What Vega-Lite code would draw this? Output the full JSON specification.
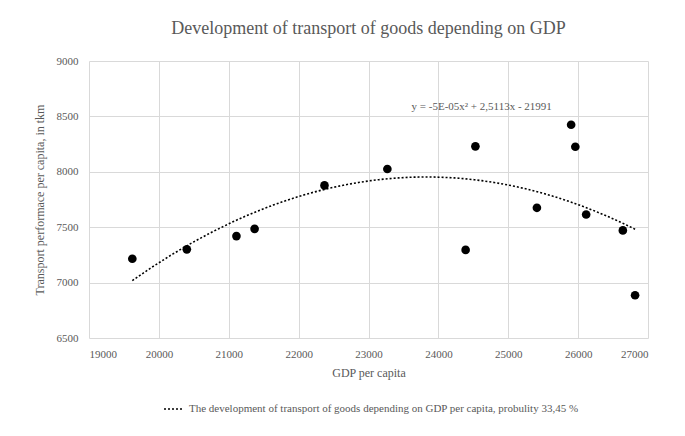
{
  "$schema": "https://vega.github.io/schema/vega-lite/v6.json",
  "width": 559,
  "height": 277,
  "autosize": "none",
  "padding": {"left": 89, "top": 61, "right": 37, "bottom": 98},
  "background": "white",
  "config": {
    "font": "'Liberation Serif', 'DejaVu Serif', serif",
    "view": {"stroke": null},
    "axis": {
      "grid": true,
      "gridColor": "#d9d9d9",
      "gridWidth": 1,
      "domain": false,
      "ticks": false,
      "labelFont": "'Liberation Serif', 'DejaVu Serif', serif",
      "labelFontSize": 11,
      "labelColor": "#595959",
      "titleFont": "'Liberation Serif', 'DejaVu Serif', serif",
      "titleFontSize": 12,
      "titleFontWeight": "normal",
      "titleColor": "#595959"
    }
  },
  "title": {
    "text": "Development of transport of goods depending on GDP",
    "font": "'Liberation Serif', 'DejaVu Serif', serif",
    "fontSize": 18,
    "fontWeight": "normal",
    "color": "#595959",
    "anchor": "middle",
    "offset": 17
  },
  "datasets": {
    "points": [
      {"GDP": 19620, "Transport": 7215},
      {"GDP": 20400, "Transport": 7300},
      {"GDP": 21110, "Transport": 7420},
      {"GDP": 21370, "Transport": 7485},
      {"GDP": 22370, "Transport": 7877},
      {"GDP": 23270, "Transport": 8025},
      {"GDP": 24390, "Transport": 7295},
      {"GDP": 24530, "Transport": 8230},
      {"GDP": 25410, "Transport": 7675},
      {"GDP": 25900, "Transport": 8425},
      {"GDP": 25960, "Transport": 8226},
      {"GDP": 26115, "Transport": 7615},
      {"GDP": 26640, "Transport": 7471},
      {"GDP": 26815, "Transport": 6886}
    ],
    "equation": [
      {"GDP": 24620, "Transport": 8585, "label": "y = -5E-05x² + 2,5113x - 21991"}
    ]
  },
  "layer": [
    {
      "data": {"name": "points"},
      "transform": [
        {"regression": "Transport", "on": "GDP", "method": "poly", "order": 2, "extent": [19620, 26815]}
      ],
      "mark": {"type": "line", "strokeDash": [2, 2], "strokeWidth": 1.6},
      "encoding": {
        "x": {
          "field": "GDP", "type": "quantitative", "title": "GDP per capita",
          "scale": {"domain": [19000, 27000], "nice": false, "zero": false},
          "axis": {"values": [19000, 20000, 21000, 22000, 23000, 24000, 25000, 26000, 27000], "labelPadding": 10, "titlePadding": 8, "format": "d"}
        },
        "y": {
          "field": "Transport", "type": "quantitative", "title": "Transport performace per capita, in tkm",
          "scale": {"domain": [6500, 9000], "nice": false, "zero": false},
          "axis": {"values": [6500, 7000, 7500, 8000, 8500, 9000], "labelPadding": 11, "titlePadding": 10, "format": "d"}
        },
        "color": {
          "datum": "The development of transport of goods depending on GDP per capita, probulity 33,45 %",
          "type": "nominal",
          "scale": {"range": ["#000000"]},
          "legend": {
            "title": null,
            "orient": "none",
            "legendX": 74,
            "legendY": 337,
            "symbolType": "stroke",
            "symbolDash": [2, 2],
            "symbolStrokeWidth": 1.6,
            "symbolSize": 400,
            "labelFont": "'Liberation Serif', 'DejaVu Serif', serif",
            "labelFontSize": 11,
            "labelColor": "#595959",
            "labelLimit": 0
          }
        }
      }
    },
    {
      "data": {"name": "points"},
      "mark": {"type": "circle", "size": 75, "color": "#000000", "opacity": 1},
      "encoding": {
        "x": {"field": "GDP", "type": "quantitative"},
        "y": {"field": "Transport", "type": "quantitative"}
      }
    },
    {
      "data": {"name": "equation"},
      "mark": {"type": "text", "font": "'Liberation Serif', 'DejaVu Serif', serif", "fontSize": 11, "color": "#595959"},
      "encoding": {
        "x": {"field": "GDP", "type": "quantitative"},
        "y": {"field": "Transport", "type": "quantitative"},
        "text": {"field": "label"}
      }
    }
  ]
}
